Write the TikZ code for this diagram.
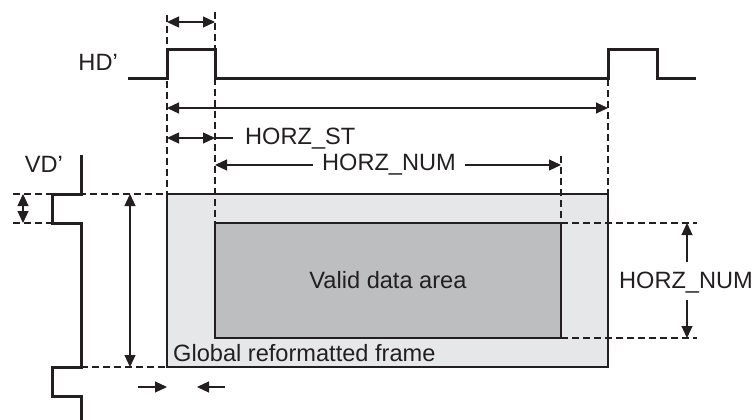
\documentclass[tikz,border=0pt]{standalone}
\usepackage{fontspec}
\setmainfont{Liberation Sans}
\usetikzlibrary{arrows.meta}
\definecolor{ink}{HTML}{231F20}
\definecolor{framefill}{HTML}{E6E7E8}
\definecolor{validfill}{HTML}{BCBEC0}
\begin{document}
\begin{tikzpicture}[x=1pt,y=-1pt,
  wave/.style={ink, line width=3pt, line join=miter},
  box/.style={ink, line width=2pt},
  dim/.style={ink, line width=1.2pt},
  guide/.style={ink, line width=1.2pt, dash pattern=on 7pt off 4pt},
  tipend/.style={-{Triangle[length=12pt,width=11pt]}},
  tipboth/.style={{Triangle[length=12pt,width=11pt]}-{Triangle[length=12pt,width=11pt]}},
  lbl/.style={font=\fontsize{23.6}{28}\selectfont, text=ink, inner sep=0pt}]
\useasboundingbox (0,0) rectangle (756,420);

% rectangles
\draw[box, fill=framefill] (167,194) coordinate (fTL) rectangle (608,367) coordinate (fBR);
\draw[box, fill=validfill] (215,223) coordinate (vTL) rectangle (561,338) coordinate (vBR);
\node[lbl] (valid) at (388,280) {Valid data area};
\node[lbl, anchor=west] (global) at (173,353) {Global reformatted frame};

% waveforms
\draw[wave] (128,79) -- (167,79) -- (167,50) -- (215,50) -- (215,79) -- (608,79) -- (608,50) -- (657,50) -- (657,79) -- (696,79);
\draw[wave] (81,155) -- (81,194) -- (52,194) -- (52,223) -- (81,223) -- (81,367) -- (52,367) -- (52,396) -- (81,396) -- (81,422);
\node[lbl, anchor=east] (hd) at (118,62) {HD’};
\node[lbl, anchor=east] (vd) at (63,164) {VD’};

% vertical guides
\coordinate (g1t) at (167,15);  \coordinate (g1b) at (167,194);
\coordinate (g2t) at (215,12);  \coordinate (g2b) at (215,223);
\coordinate (g3t) at (608,79);  \coordinate (g3b) at (608,194);
\coordinate (g4t) at (561,156); \coordinate (g4b) at (561,223);
\draw[guide] (g1t) -- (g1b);
\draw[guide] (g2t) -- (g2b);
\draw[guide] (g3t) -- (g3b);
\draw[guide] (g4t) -- (g4b);

% horizontal guides
\coordinate (h1a) at (13,194);  \coordinate (h1b) at (167,194);
\coordinate (h2a) at (13,223);  \coordinate (h2b) at (52,223);
\coordinate (h3a) at (81,367);  \coordinate (h3b) at (167,367);
\coordinate (h4a) at (561,223); \coordinate (h4b) at (697,223);
\coordinate (h5a) at (561,338); \coordinate (h5b) at (697,338);
\draw[guide] (h1a) -- (h1b);
\draw[guide] (h2a) -- (h2b);
\draw[guide] (h3a) -- (h3b);
\draw[guide] (h4a) -- (h4b);
\draw[guide] (h5a) -- (h5b);

% top dimension arrows
\coordinate (a1l) at (167,22);  \coordinate (a1r) at (215,22);
\draw[dim, tipboth] (a1l) -- (a1r);
\coordinate (a2l) at (167,108); \coordinate (a2r) at (608,108);
\draw[dim, tipboth] (a2l) -- (a2r);

% HORZ_ST
\coordinate (a3l) at (167,138); \coordinate (a3r) at (215,138); \coordinate (a3e) at (233,138);
\draw[dim, tipboth] (a3l) -- (a3r);
\draw[dim] (a3r) -- (a3e);
\node[lbl, anchor=west] (hst) at (245,139) {HORZ\_ST};

% HORZ_NUM top
\node[lbl] (hnum) at (389,165) {HORZ\_NUM};
\coordinate (a4l) at (215,165); \coordinate (a4r) at (561,165);
\draw[dim, tipend] (313,165) -- (a4l);
\draw[dim, tipend] (465,165) -- (a4r);

% HORZ_NUM right
\node[lbl] (hnum2) at (686,283) {HORZ\_NUM};
\coordinate (a5t) at (687,223); \coordinate (a5b) at (687,338);
\draw[dim, tipend] (687,262) -- (a5t);
\draw[dim, tipend] (687,300) -- (a5b);

% left vertical arrows
\coordinate (a6t) at (23,194); \coordinate (a6b) at (23,223);
\draw[dim, tipboth] (a6t) -- (a6b);
\coordinate (a7t) at (130,194); \coordinate (a7b) at (130,367);
\draw[dim, tipboth] (a7t) -- (a7b);

% bottom arrows
\coordinate (b1s) at (138,387); \coordinate (b1e) at (167,387);
\coordinate (b2s) at (225,387); \coordinate (b2e) at (197,387);
\draw[dim, tipend] (b1s) -- (b1e);
\draw[dim, tipend] (b2s) -- (b2e);
\end{tikzpicture}
\end{document}
